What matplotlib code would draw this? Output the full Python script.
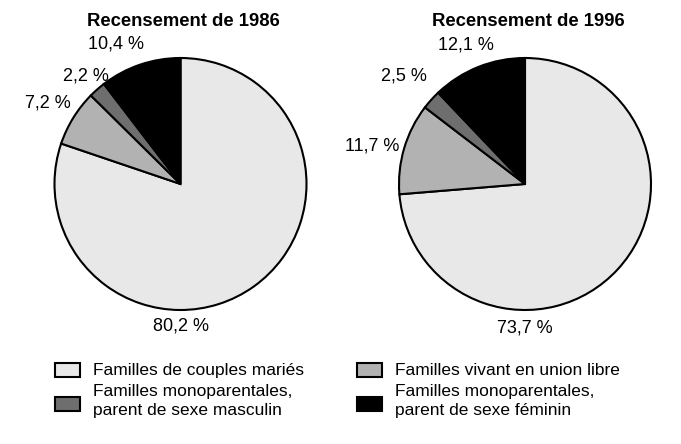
import matplotlib.pyplot as plt
from matplotlib.patches import Rectangle

plt.rcParams['font.family'] = ['Liberation Sans', 'DejaVu Sans']

categories = ['Familles de couples mariés', 'Familles vivant en union libre',
              'Familles monoparentales,\nparent de sexe masculin',
              'Familles monoparentales,\nparent de sexe féminin']
colors = ['#e8e8e8', '#b2b2b2', '#6e6e6e', '#000000']
titles = ['Recensement de 1986', 'Recensement de 1996']
values_1986 = [80.2, 7.2, 2.2, 10.4]
values_1996 = [73.7, 11.7, 2.5, 12.1]
labels_1986 = ['80,2 %', '7,2 %', '2,2 %', '10,4 %']
labels_1996 = ['73,7 %', '11,7 %', '2,5 %', '12,1 %']

# label positions (pie radius = 1)
pos_1986 = [(0, -1.13), (-1.05, 0.64), (-0.75, 0.86), (-0.51, 1.11)]
pos_1996 = [(0, -1.14), (-1.21, 0.30), (-0.96, 0.86), (-0.47, 1.10)]

W, H = 681, 444
fig = plt.figure(figsize=(W / 100, H / 100), dpi=100)

r = 126
half = 1.3 * r
for cx, vals, labs, pos, title in [(180.5, values_1986, labels_1986, pos_1986, titles[0]),
                                   (525, values_1996, labels_1996, pos_1996, titles[1])]:
    cy = 184
    ax = fig.add_axes([(cx - half) / W, (H - cy - half) / H, 2 * half / W, 2 * half / H])
    ax.pie(vals, colors=colors, startangle=90, counterclock=False, radius=1,
           wedgeprops=dict(edgecolor='black', linewidth=1.5))
    ax.set_xlim(-1.3, 1.3)
    ax.set_ylim(-1.3, 1.3)
    ax.axis('off')
    for lab, (x, y) in zip(labs, pos):
        ax.text(x, y, lab, ha='center', va='center', fontsize=13)
    fig.text((cx + 3) / W, 1 - 22 / H, title, ha='center', va='center',
             fontsize=13.3, fontweight='bold')

# legend
leg = [(55, 370, 370, 93), (357, 370, 370, 395),
       (55, 404, 401, 93), (357, 404, 401, 395)]
for (px, by, ty, tx), c, cat in zip(leg, colors, categories):
    fig.patches.append(Rectangle((px / W, 1 - (by + 7) / H), 25 / W, 14 / H,
                                 transform=fig.transFigure, facecolor=c,
                                 edgecolor='black', linewidth=1.5))
    fig.text(tx / W, 1 - ty / H, cat, ha='left', va='center', fontsize=12.5,
             linespacing=1.3)

fig.savefig('out.png', dpi=100)
